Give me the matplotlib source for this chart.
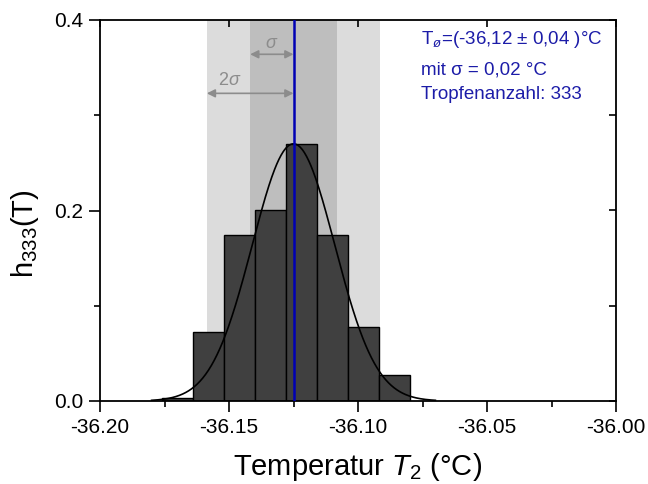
import numpy as np
import matplotlib
matplotlib.use("Agg")
import matplotlib.pyplot as plt
from matplotlib.ticker import MultipleLocator, FormatStrFormatter

plt.rcParams['font.family'] = ['Liberation Sans', 'DejaVu Sans']
plt.rcParams['mathtext.fontset'] = 'custom'
plt.rcParams['mathtext.rm'] = 'Liberation Sans'
plt.rcParams['mathtext.it'] = 'Liberation Sans:italic'
plt.rcParams['mathtext.sf'] = 'Liberation Sans'

# Data
bin_edges = [-36.176, -36.164, -36.152, -36.140, -36.128, -36.116, -36.104, -36.092, -36.080]
heights = [0.003, 0.072, 0.174, 0.201, 0.270, 0.174, 0.078, 0.027]
mean_T = -36.125
sigma = 0.0168
fit_sigma = 0.016
fit_amp = 0.27
fit_range = (-36.18, -36.07)

fig = plt.figure(figsize=(6.48, 4.84), dpi=100)
ax = fig.add_axes([100/648, 1-401/484, 516/648, 381/484])

# sigma bands
ax.axvspan(mean_T - 2*sigma, mean_T + 2*sigma, color='#dcdcdc', lw=0, zorder=0)
ax.axvspan(mean_T - sigma, mean_T + sigma, color='#bebebe', lw=0, zorder=0.5)

# histogram
lefts = np.array(bin_edges[:-1])
widths = np.diff(bin_edges)
ax.bar(lefts, heights, width=widths, align='edge', color='#404040',
       edgecolor='black', linewidth=1.0, zorder=2)

# gaussian fit
xs = np.linspace(fit_range[0], fit_range[1], 400)
ax.plot(xs, fit_amp*np.exp(-0.5*((xs-mean_T)/fit_sigma)**2), color='black', lw=1.2, zorder=3)

# mean line
ax.axvline(mean_T, color='#0000b4', lw=1.8, zorder=4)

# sigma arrows
arrow_col = '#8c8c8c'
ax.annotate('', xy=(mean_T - sigma, 0.364), xytext=(mean_T, 0.364),
            arrowprops=dict(arrowstyle='<|-|>', color=arrow_col, lw=1.2,
                            mutation_scale=12, shrinkA=0, shrinkB=0), zorder=3)
ax.annotate('', xy=(mean_T - 2*sigma, 0.323), xytext=(mean_T, 0.323),
            arrowprops=dict(arrowstyle='<|-|>', color=arrow_col, lw=1.2,
                            mutation_scale=12, shrinkA=0, shrinkB=0), zorder=3)
ax.text(mean_T - 0.0086, 0.375, r'$\sigma$', color=arrow_col, fontsize=13,
        ha='center', va='center')
ax.text(mean_T - 0.0247, 0.337, r'2$\sigma$', color=arrow_col, fontsize=13,
        ha='center', va='center')

# info text
tc = '#1c1ca8'
ax.text(0.622, 0.977, 'T$_{ø}$=(-36,12 ± 0,04 )°C', transform=ax.transAxes,
        color=tc, fontsize=13.5, va='top', ha='left')
ax.text(0.622, 0.892, 'mit σ = 0,02 °C', transform=ax.transAxes,
        color=tc, fontsize=13.5, va='top', ha='left')
ax.text(0.622, 0.826, 'Tropfenanzahl: 333', transform=ax.transAxes,
        color=tc, fontsize=13.5, va='top', ha='left')

ax.set_xlim(-36.20, -36.00)
ax.set_ylim(0.0, 0.4)
ax.xaxis.set_major_locator(MultipleLocator(0.05))
ax.xaxis.set_minor_locator(MultipleLocator(0.025))
ax.yaxis.set_major_locator(MultipleLocator(0.2))
ax.yaxis.set_minor_locator(MultipleLocator(0.1))
ax.xaxis.set_major_formatter(FormatStrFormatter('%.2f'))
ax.yaxis.set_major_formatter(FormatStrFormatter('%.1f'))

ax.tick_params(which='major', direction='out', length=8, width=1.2, labelsize=15, pad=4,
               top=False, right=False)
ax.tick_params(which='minor', direction='out', length=4, width=1.2, top=False, right=False)

# mirrored ticks inward
axt = ax.secondary_xaxis('top')
axt.xaxis.set_major_locator(MultipleLocator(0.05))
axt.tick_params(which='major', direction='in', length=5, width=1.2, labeltop=False)
axt.tick_params(which='minor', length=0)
axr = ax.secondary_yaxis('right')
axr.yaxis.set_major_locator(MultipleLocator(0.1))
axr.tick_params(which='major', direction='in', length=5, width=1.2, labelright=False)
axr.tick_params(which='minor', length=0)
for s in axt.spines.values():
    s.set_visible(False)
for s in axr.spines.values():
    s.set_visible(False)

for s in ax.spines.values():
    s.set_linewidth(1.3)

ax.set_xlabel('Temperatur $T_2$ (°C)', fontsize=21, labelpad=10)
ax.set_ylabel('h$_{333}$(T)', fontsize=21)
ax.yaxis.set_label_coords(-0.115, 0.44)

fig.savefig('out.png', dpi=100)
